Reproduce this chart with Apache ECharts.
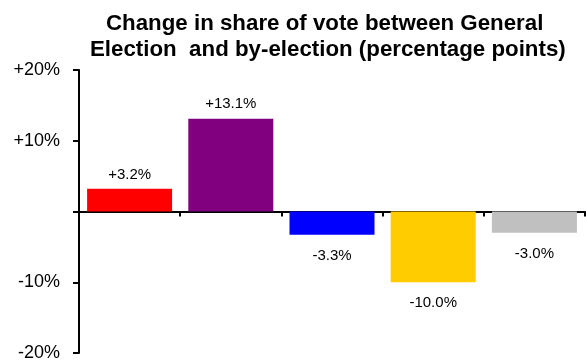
<!DOCTYPE html>
<html>
<head>
<meta charset="utf-8">
<script src="https://cdn.jsdelivr.net/npm/echarts@6/dist/echarts.min.js"></script>
<style>html,body{margin:0;padding:0;background:#fff}#c{width:586px;height:362px}</style>
</head>
<body>
<div id="c"></div>
<script>
var titleLines = ['Change in share of vote between General', 'Election  and by-election (percentage points)'];
var parties = ['A', 'B', 'C', 'D', 'E'];
var changes = [3.2, 13.1, -3.3, -10.0, -3.0];
var colors = ['#FF0000', '#800080', '#0000FF', '#FFCC00', '#C0C0C0'];
var yTicks = {'20': '+20%', '10': '+10%', '0': '', '-10': '-10%', '-20': '-20%'};

var chart = echarts.init(document.getElementById('c'), null, {renderer: 'canvas'});
var font = 'Arial, "Liberation Sans", sans-serif';
chart.setOption({
  animation: false,
  title: [
    {text: titleLines[0], left: 101, top: 8, textStyle: {fontFamily: font, fontWeight: 'bold', fontSize: 22.3, color: '#000'}},
    {text: titleLines[1], left: 85, top: 34, textStyle: {fontFamily: font, fontWeight: 'bold', fontSize: 22.3, color: '#000'}}
  ],
  grid: {left: 79, right: 1, top: 70, bottom: 9, containLabel: false},
  xAxis: {
    type: 'category',
    data: parties,
    axisLine: {onZero: true, lineStyle: {color: '#000', width: 2}},
    axisTick: {show: true, inside: false, length: 5, alignWithLabel: false, lineStyle: {color: '#000', width: 2}},
    axisLabel: {show: false},
    splitLine: {show: false}
  },
  yAxis: {
    type: 'value',
    min: -20, max: 20, interval: 10,
    axisLine: {show: true, lineStyle: {color: '#000', width: 2}},
    axisTick: {show: true, length: 6, lineStyle: {color: '#000', width: 2}},
    axisLabel: {
      margin: 19,
      padding: [5, 0, 0, 0],
      fontFamily: font, fontSize: 18, color: '#000',
      formatter: function (v) { return yTicks[String(v)]; }
    },
    splitLine: {show: false}
  },
  series: [{
    type: 'bar',
    barCategoryGap: '16%',
    data: changes.map(function (v, i) {
      return {
        value: v,
        itemStyle: {color: colors[i]},
        label: {position: v >= 0 ? 'top' : 'bottom', distance: v >= 0 ? 7 : 13.5}
      };
    }),
    label: {
      show: true,
      fontFamily: font, fontSize: 15, color: '#000',
      formatter: function (p) { return (p.value > 0 ? '+' : '') + p.value.toFixed(1) + '%'; }
    }
  }]
});
</script>
</body>
</html>
